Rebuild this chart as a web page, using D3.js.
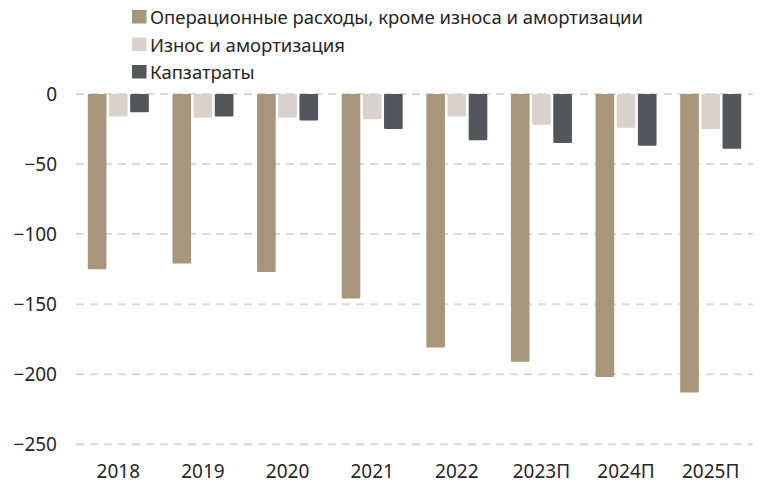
<!DOCTYPE html>
<html>
<head>
<meta charset="utf-8">
<script src="https://cdn.jsdelivr.net/npm/d3@7"></script>
<style>
  body { margin: 0; background: #fff; }
  svg { display: block; font-family: 'Noto Sans', sans-serif; }
  .grid line { stroke: #d9d9d9; stroke-width: 2; stroke-dasharray: 8 6; }
  .axis text { fill: #262626; font-size: 19px; }
</style>
</head>
<body>
<div id="chart"></div>
<script>
;(function() {
  'use strict';
  var years = ['2018', '2019', '2020', '2021', '2022', '2023П', '2024П', '2025П'],
      seriesNames = ['Операционные расходы, кроме износа и амортизации', 'Износ и амортизация', 'Капзатраты'],
      opex = [-125, -121, -127, -146, -181, -191, -202, -213],
      depreciation = [-16, -17, -17, -18, -16, -22, -24, -25],
      capex = [-13, -16, -19, -25, -33, -35, -37, -39],
      yTicks = [0, -50, -100, -150, -200, -250],
      colors = ['#a8967c', '#d9d1cb', '#53565a'];

  var width = 772, height = 502,
      margin = {top: 94, right: 19, bottom: 57, left: 76};

  var seriesValues = [opex, depreciation, capex];
  var rows = years.map(function(y, i) {
    return {year: y, values: seriesValues.map(function(s, k) { return {key: k, value: s[i]}; })};
  });

  var svg = d3.select('#chart').append('svg')
    .attr('width', width)
    .attr('height', height);

  var x0 = d3.scaleBand().domain(years).range([margin.left, width - margin.right]),
      groupW = 61,
      x1 = d3.scaleBand().domain([0, 1, 2]).range([0, groupW]).paddingInner(0.12),
      y = d3.scaleLinear().domain([-250, 0]).range([height - margin.bottom - 0.7, margin.top]);

  // Grid lines
  svg.append('g')
    .classed('grid', true)
    .selectAll('line')
    .data(yTicks)
    .enter().append('line')
      .attr('x1', margin.left)
      .attr('x2', width - margin.right)
      .attr('y1', function(d) { return y(d); })
      .attr('y2', function(d) { return y(d); });

  // Y axis labels
  svg.append('g')
    .classed('axis', true)
    .attr('transform', 'translate(' + (margin.left - 19) + ',0)')
    .call(d3.axisLeft(y).tickValues(yTicks).tickSize(0).tickPadding(0))
    .call(function(g) { g.select('.domain').remove(); })
    .selectAll('text')
      .attr('dy', '0.34em')
      .style('font-family', "'Noto Sans', sans-serif");

  // X axis labels
  svg.append('g')
    .classed('axis', true)
    .attr('transform', 'translate(0,' + (height - margin.bottom + 15) + ')')
    .call(d3.axisBottom(x0).tickSize(0).tickPadding(0))
    .call(function(g) { g.select('.domain').remove(); })
    .selectAll('text')
      .attr('dy', '0.95em')
      .style('font-family', "'Noto Sans', sans-serif");

  // Bars
  var groups = svg.append('g')
    .selectAll('g.group')
    .data(rows)
    .enter().append('g')
      .classed('group', true)
      .attr('transform', function(d) {
        return 'translate(' + (x0(d.year) + (x0.bandwidth() - groupW) / 2) + ',0)';
      });

  groups.selectAll('rect')
    .data(function(d) { return d.values; })
    .enter().append('rect')
      .attr('x', function(d) { return x1(d.key); })
      .attr('y', y(0))
      .attr('width', x1.bandwidth())
      .attr('height', function(d) { return y(d.value) - y(0); })
      .attr('rx', 1)
      .attr('fill', function(d) { return colors[d.key]; });

  // Legend
  var legend = svg.append('g')
    .selectAll('g')
    .data(seriesNames)
    .enter().append('g')
      .attr('transform', function(d, i) { return 'translate(132,' + (10 + i * 27.5) + ')'; });

  legend.append('rect')
    .attr('width', 14.5)
    .attr('height', 13.5)
    .attr('fill', function(d, i) { return colors[i]; });

  legend.append('text')
    .attr('x', 18)
    .attr('y', 14)
    .style('font-size', '18.5px')
    .style('fill', '#262626')
    .text(function(d) { return d; });
})();
</script>
</body>
</html>
